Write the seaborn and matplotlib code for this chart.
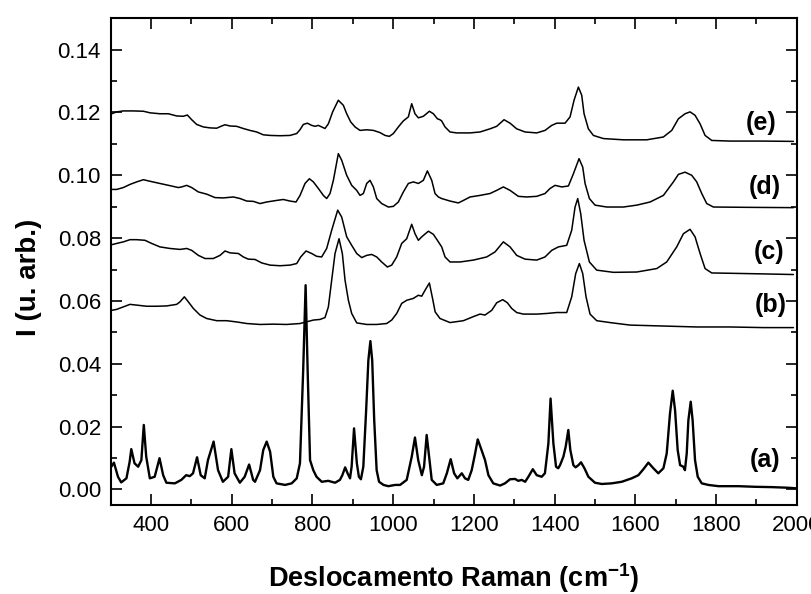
import numpy as np
import pandas as pd
import matplotlib
matplotlib.use("Agg")
import matplotlib.pyplot as plt
from matplotlib.ticker import MultipleLocator
import seaborn as sns

# ---- data ----
xa = [301.6, 308, 318, 326, 339, 347, 351, 359, 368, 376, 382, 388, 397, 409, 421, 430, 438, 459, 475, 487,
      496, 504, 514, 523, 533, 541, 555, 566, 578, 591, 599, 607, 620, 632, 643, 653, 657.6, 670, 678, 686.5,
      695, 703, 711, 732, 748.5, 761, 769, 777, 783, 788, 794, 802, 810, 823, 839, 856, 868, 874, 881, 887,
      893, 897, 903, 910, 915, 920, 926, 933, 938.5, 943.5, 948, 953, 959, 965, 976, 988, 1005, 1017, 1033.5,
      1046, 1054, 1062, 1071, 1076.5, 1083, 1090, 1095.5, 1108, 1124, 1133, 1142.5, 1151, 1159, 1170, 1178,
      1186, 1194.6, 1203, 1209.5, 1219, 1227.6, 1236, 1248, 1265, 1277, 1289.6, 1302, 1310, 1318.5, 1327,
      1335, 1346, 1355.7, 1368, 1376, 1384.6, 1390, 1397, 1403.6, 1409, 1413.5, 1421.8, 1427.5, 1434, 1439,
      1446.5, 1452, 1459, 1465.5, 1474, 1483.7, 1500, 1516.8, 1541.6, 1566.4, 1591, 1607.6, 1620, 1632.4,
      1644.8, 1657, 1669.6, 1677.8, 1686, 1692.7, 1698.5, 1705, 1711, 1719, 1723, 1727.4, 1731.5, 1737.3,
      1742, 1748, 1754.7, 1764.6, 1781, 1806, 1855.5, 1897, 1938, 1979.4, 2000]
ya = [0.0072, 0.0085, 0.0040, 0.0022, 0.0035, 0.0088, 0.0128, 0.0083, 0.0072, 0.0093, 0.0205, 0.0104, 0.0035,
      0.0040, 0.0099, 0.0045, 0.0021, 0.0019, 0.0030, 0.0045, 0.0042, 0.0051, 0.0102, 0.0045, 0.0035, 0.0093,
      0.0152, 0.0061, 0.0024, 0.0040, 0.0128, 0.0051, 0.0021, 0.0040, 0.0079, 0.0030, 0.0024, 0.0061, 0.0125,
      0.0152, 0.0120, 0.0040, 0.0019, 0.0014, 0.0019, 0.0035, 0.0083, 0.0380, 0.0650, 0.0380, 0.0093, 0.0061,
      0.0040, 0.0024, 0.0027, 0.0021, 0.0030, 0.0045, 0.0070, 0.0051, 0.0035, 0.0072, 0.0194, 0.0083, 0.0040,
      0.0032, 0.0072, 0.0252, 0.0411, 0.0472, 0.0411, 0.0220, 0.0061, 0.0024, 0.0014, 0.0010, 0.0014, 0.0014,
      0.0030, 0.0104, 0.0165, 0.0093, 0.0045, 0.0072, 0.0173, 0.0093, 0.0030, 0.0014, 0.0019, 0.0051, 0.0096,
      0.0051, 0.0035, 0.0051, 0.0035, 0.0030, 0.0061, 0.0114, 0.0159, 0.0125, 0.0093, 0.0045, 0.0019, 0.0012,
      0.0019, 0.0032, 0.0033, 0.0027, 0.0030, 0.0024, 0.0040, 0.0064, 0.0045, 0.0040, 0.0051, 0.0146, 0.0289,
      0.0146, 0.0072, 0.0067, 0.0077, 0.0104, 0.0136, 0.0189, 0.0125, 0.0077, 0.0070, 0.0077, 0.0086, 0.0067,
      0.0040, 0.0021, 0.0017, 0.0019, 0.0024, 0.0035, 0.0045, 0.0064, 0.0085, 0.0067, 0.0051, 0.0067, 0.0114,
      0.0242, 0.0314, 0.0252, 0.0125, 0.0077, 0.0072, 0.0061, 0.0114, 0.0220, 0.0279, 0.0220, 0.0093, 0.0040,
      0.0019, 0.0014, 0.0010, 0.0010, 0.0008, 0.0007, 0.0005, 0.0003]

xb = [302.4, 314.8, 331.3, 347.8, 368.5, 389.1, 413.9, 438.7, 463.5, 471.7, 482.5, 492.4, 504.8, 521.3, 537.8,
      562.6, 587.4, 612.2, 637, 670, 703, 736.1, 769.2, 802.2, 818.7, 831.1, 839.4, 847.6, 855.9, 865.8, 874,
      880.7, 889, 897.2, 909.6, 934.4, 959.2, 983.9, 996.3, 1008.7, 1021.1, 1033.5, 1050, 1062.4, 1070.7, 1079,
      1089.7, 1098, 1104, 1116, 1140.9, 1174, 1198.7, 1215.2, 1227.6, 1244.2, 1256.5, 1271.4, 1283, 1293.7,
      1306.1, 1322.6, 1355.7, 1380.5, 1405.3, 1430, 1442.4, 1452.3, 1461.4, 1469.7, 1477.9, 1487.8, 1504.4,
      1537.4, 1587, 1669.6, 1752.2, 1834.8, 1917.4, 1991.8]
yb = [0.0570, 0.0573, 0.0581, 0.0589, 0.0586, 0.0583, 0.0583, 0.0584, 0.0589, 0.0597, 0.0613, 0.0597, 0.0576,
      0.0555, 0.0544, 0.0537, 0.0537, 0.0533, 0.0528, 0.0525, 0.0526, 0.0525, 0.0528, 0.0539, 0.0541, 0.0547,
      0.0581, 0.0666, 0.0751, 0.0798, 0.0751, 0.0666, 0.0602, 0.0560, 0.0530, 0.0525, 0.0525, 0.0528, 0.0539,
      0.0560, 0.0592, 0.0602, 0.0608, 0.0618, 0.0615, 0.0634, 0.0657, 0.0605, 0.0565, 0.0544, 0.0531, 0.0537,
      0.0550, 0.0558, 0.0555, 0.0570, 0.0594, 0.0604, 0.0594, 0.0576, 0.0563, 0.0558, 0.0558, 0.0560, 0.0563,
      0.0563, 0.0613, 0.0687, 0.0719, 0.0687, 0.0613, 0.0558, 0.0537, 0.0531, 0.0523, 0.0520, 0.0517, 0.0517,
      0.0515, 0.0515]

xc = [302.4, 314.8, 331.3, 347.8, 364.4, 385, 401.5, 422, 447, 471.7, 488.3, 500.7, 517.2, 533.7, 554.3, 570.9,
      583.3, 595.7, 616.3, 628.7, 641, 657.6, 674.2, 694.8, 719.6, 744.4, 760.9, 770.8, 784, 798, 810.4, 822.8,
      835.2, 847.6, 862.5, 872.4, 884.8, 897.2, 909.6, 922, 934.4, 946.8, 959.2, 971.5, 985.6, 996.3, 1008.7,
      1021.1, 1033.5, 1045.9, 1054.1, 1062.4, 1070.7, 1087.2, 1099.6, 1109.5, 1120.2, 1128.5, 1140.9, 1165.7,
      1198.7, 1231.8, 1252.4, 1273, 1289.6, 1306.1, 1326.8, 1355.7, 1376.3, 1392.9, 1409.4, 1430, 1442.4,
      1450.7, 1457.3, 1464.7, 1473, 1486.2, 1504.4, 1545.7, 1603.5, 1653.1, 1677.8, 1702.6, 1719.2, 1735.7,
      1748.1, 1760.5, 1772.9, 1789.4, 1834.8, 1917.4, 1991.8]
yc = [0.0779, 0.0783, 0.0788, 0.0795, 0.0795, 0.0793, 0.0783, 0.0772, 0.0767, 0.0764, 0.0767, 0.0761, 0.0745,
      0.0735, 0.0735, 0.0745, 0.0759, 0.0753, 0.0751, 0.0740, 0.0733, 0.0732, 0.0721, 0.0714, 0.0712, 0.0714,
      0.0719, 0.0740, 0.0759, 0.0751, 0.0742, 0.0740, 0.0767, 0.0825, 0.0889, 0.0867, 0.0804, 0.0777, 0.0751,
      0.0738, 0.0745, 0.0748, 0.0740, 0.0724, 0.0708, 0.0714, 0.0740, 0.0783, 0.0798, 0.0844, 0.0814, 0.0793,
      0.0804, 0.0822, 0.0812, 0.0793, 0.0772, 0.0740, 0.0724, 0.0724, 0.0730, 0.0740, 0.0756, 0.0788, 0.0772,
      0.0745, 0.0733, 0.0730, 0.0740, 0.0761, 0.0772, 0.0777, 0.0825, 0.0899, 0.0926, 0.0878, 0.0793, 0.0724,
      0.0698, 0.0691, 0.0692, 0.0703, 0.0724, 0.0772, 0.0814, 0.0828, 0.0804, 0.0751, 0.0703, 0.0689, 0.0688,
      0.0686, 0.0684]

xd = [302.4, 314.8, 331.3, 347.8, 364.4, 381, 397.4, 422, 447, 467.6, 475.9, 488.3, 500.7, 517.2, 537.8, 558.5,
      579, 604, 620.5, 637, 653.5, 670, 686.5, 711.3, 727.8, 744.4, 759.2, 769.2, 781.5, 792.3, 802.2, 814.6,
      827, 835.2, 843.5, 851.8, 864.1, 872.4, 884.8, 897.2, 909.6, 917.8, 926.1, 934.4, 942.6, 950.9, 959.2,
      971.5, 988, 1000.4, 1012.8, 1025.2, 1037.6, 1050, 1062.4, 1074.8, 1084.7, 1095.5, 1103.7, 1112, 1120.2,
      1140.9, 1161.5, 1174, 1190.5, 1215.2, 1240, 1256.5, 1273, 1289.6, 1310.2, 1330.9, 1355.7, 1376.3, 1388.7,
      1401.1, 1417.7, 1434.2, 1446.6, 1460.6, 1469.7, 1475.5, 1486.2, 1500.2, 1529.2, 1570.5, 1603.5, 1636.6,
      1669.6, 1694.4, 1706.8, 1723.3, 1739.8, 1752.2, 1764.6, 1777, 1793.5, 1876.1, 1991.8]
yd = [0.0955, 0.0955, 0.0961, 0.0971, 0.0979, 0.0986, 0.0981, 0.0974, 0.0967, 0.0961, 0.0963, 0.0968, 0.0961,
      0.0947, 0.0940, 0.0929, 0.0928, 0.0931, 0.0926, 0.0918, 0.0917, 0.0910, 0.0915, 0.0920, 0.0923, 0.0918,
      0.0915, 0.0936, 0.0974, 0.0989, 0.0979, 0.0958, 0.0936, 0.0926, 0.0942, 0.0984, 0.1069, 0.1048, 0.1000,
      0.0968, 0.0952, 0.0936, 0.0942, 0.0974, 0.0984, 0.0963, 0.0926, 0.0910, 0.0899, 0.0901, 0.0915, 0.0947,
      0.0974, 0.0979, 0.0974, 0.0984, 0.1014, 0.0984, 0.0942, 0.0931, 0.0926, 0.0918, 0.0912, 0.0920, 0.0931,
      0.0936, 0.0942, 0.0952, 0.0963, 0.0952, 0.0933, 0.0931, 0.0933, 0.0942, 0.0958, 0.0968, 0.0963, 0.0966,
      0.1005, 0.1053, 0.1026, 0.0974, 0.0926, 0.0905, 0.0899, 0.0899, 0.0905, 0.0915, 0.0936, 0.0979, 0.1003,
      0.1010, 0.1000, 0.0979, 0.0942, 0.0910, 0.0899, 0.0898, 0.0897]

xe = [302.4, 314.8, 331.3, 356, 381, 397.4, 422, 442.8, 463.5, 480, 490, 500.7, 513, 529.6, 546, 562.6, 575,
      583.3, 595.7, 612, 628.7, 645, 661.8, 678, 694.8, 719.6, 744.4, 760.9, 769, 777.4, 787.3, 798, 806.3,
      814.6, 822.8, 831, 839.4, 850, 864, 876.5, 884.8, 894.7, 905.5, 917.8, 934.4, 950.9, 967.4, 979.8, 990.5,
      1000.4, 1012.8, 1025, 1037.6, 1045.9, 1054, 1062.4, 1074.8, 1089.7, 1099.6, 1109.5, 1116, 1120.2, 1128.5,
      1140.9, 1157.4, 1190.5, 1215.2, 1240, 1256.5, 1274.7, 1289.6, 1306.1, 1326.8, 1355.7, 1376.3, 1392.9,
      1405.3, 1425.9, 1438.3, 1448.2, 1458.9, 1467.2, 1473, 1483.7, 1496.1, 1520.9, 1570.5, 1628.3, 1669.6,
      1690.3, 1706.8, 1723.3, 1735.7, 1748.1, 1760.5, 1772.9, 1789.4, 1834.8, 1917.4, 1991.8]
ye = [0.1196, 0.1202, 0.1205, 0.1205, 0.1204, 0.1199, 0.1196, 0.1196, 0.1189, 0.1188, 0.1192, 0.1177, 0.1162,
      0.1154, 0.1151, 0.1150, 0.1157, 0.1161, 0.1157, 0.1156, 0.1149, 0.1143, 0.1138, 0.1129, 0.1127, 0.1126,
      0.1127, 0.1133, 0.1145, 0.1162, 0.1166, 0.1159, 0.1156, 0.1159, 0.1154, 0.1149, 0.1164, 0.1202, 0.1239,
      0.1223, 0.1196, 0.1170, 0.1154, 0.1143, 0.1145, 0.1143, 0.1136, 0.1127, 0.1124, 0.1133, 0.1154, 0.1173,
      0.1186, 0.1228, 0.1196, 0.1183, 0.1188, 0.1204, 0.1196, 0.1180, 0.1177, 0.1173, 0.1154, 0.1138, 0.1135,
      0.1135, 0.1138, 0.1148, 0.1156, 0.1177, 0.1166, 0.1148, 0.1138, 0.1135, 0.1143, 0.1159, 0.1166, 0.1166,
      0.1186, 0.1239, 0.1281, 0.1255, 0.1196, 0.1148, 0.1127, 0.1117, 0.1113, 0.1113, 0.1122, 0.1143, 0.1180,
      0.1196, 0.1202, 0.1191, 0.1164, 0.1127, 0.1111, 0.1109, 0.1109, 0.1108]

labels = ["(a)", "(b)", "(c)", "(d)", "(e)"]
label_x = [1921, 1936, 1931, 1921, 1912]
label_y = [0.0093, 0.0586, 0.0755, 0.0962, 0.1165]

xticks = [400, 600, 800, 1000, 1200, 1400, 1600, 1800, 2000]
yticks = [0.00, 0.02, 0.04, 0.06, 0.08, 0.10, 0.12, 0.14]

# ---- style ----
sns.set_style("ticks")
plt.rcParams["font.family"] = ["Liberation Sans", "DejaVu Sans"]
plt.rcParams["mathtext.fontset"] = "custom"
plt.rcParams["mathtext.rm"] = "Liberation Sans"
plt.rcParams["mathtext.bf"] = "Liberation Sans:bold"
plt.rcParams["text.color"] = "black"
plt.rcParams["axes.labelcolor"] = "black"
plt.rcParams["xtick.color"] = "black"
plt.rcParams["ytick.color"] = "black"
plt.rcParams["axes.edgecolor"] = "black"

fig = plt.figure(figsize=(8.11, 5.94), dpi=100)
ax = fig.add_axes([0.1365, 0.1498, 0.8459, 0.8194])

series = [(xa, ya, 1.7), (xb, yb, 1.1), (xc, yc, 1.1), (xd, yd, 1.1), (xe, ye, 1.1)]
for (xs, ys, lw) in series:
    df = pd.DataFrame({"x": xs, "y": ys})
    sns.lineplot(data=df, x="x", y="y", ax=ax, color="black", linewidth=lw,
                 estimator=None, sort=False, legend=False)

for t, lx, ly in zip(labels, label_x, label_y):
    ax.text(lx, ly, t, fontsize=18, fontweight="bold", ha="center", va="center", color="black")

ax.set_xlim(300, 2000)
ax.set_ylim(-0.005, 0.15)
ax.set_xticks(xticks)
ax.set_yticks(yticks)
ax.set_yticklabels([f"{v:.2f}" for v in yticks])
ax.xaxis.set_minor_locator(MultipleLocator(100))
ax.yaxis.set_minor_locator(MultipleLocator(0.01))
ax.tick_params(which="both", direction="in", top=True, right=True, width=1.2,
               colors="black", labelcolor="black")
ax.tick_params(which="major", length=8, labelsize=16, pad=7)
ax.tick_params(which="minor", length=4)
for s in ax.spines.values():
    s.set_linewidth(1.5)
    s.set_color("black")

ax.set_xlabel("Deslocamento Raman (cm$^{\\mathbf{-1}}$)", fontsize=19.5, fontweight="bold", color="black")
ax.set_ylabel("I (u. arb.)", fontsize=20, fontweight="bold", color="black")
ax.xaxis.set_label_coords(0.5, -0.115)
ax.yaxis.set_label_coords(-0.10, 0.468)

fig.savefig("out.png", dpi=100)
